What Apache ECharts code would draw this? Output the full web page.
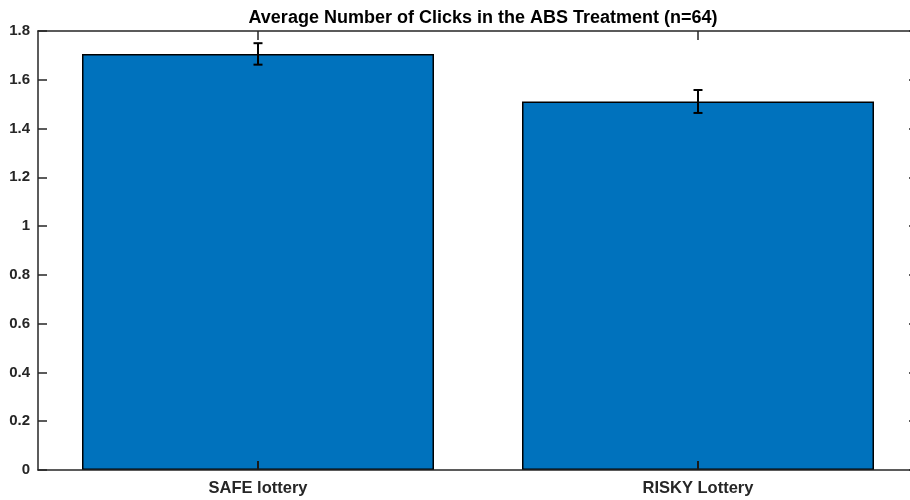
<!DOCTYPE html>
<html><head><meta charset="utf-8">
<script src="https://cdn.jsdelivr.net/npm/echarts@6/dist/echarts.min.js"></script>
<style>html,body{margin:0;padding:0;background:#fff}#c{width:910px;height:500px}</style>
</head><body><div id="c"></div>
<script>
var categories = ["SAFE lottery", "RISKY Lottery"];
var means = [1.706, 1.511];
var errors = [0.044, 0.047];
var titleText = "Average Number of Clicks in the ABS Treatment (n=64)";

var chart = echarts.init(document.getElementById('c'), null, {renderer: 'canvas'});
var axisCol = '#262626';
var font = 'Liberation Sans, Arial, Helvetica, sans-serif';
var errData = categories.map(function (c, i) { return [i, means[i] - errors[i], means[i] + errors[i]]; });

chart.setOption({
  animation: false,
  title: {
    text: titleText, left: 478, top: 4, textAlign: 'center',
    textStyle: {fontFamily: font, fontWeight: 'bold', fontSize: 18, color: '#000'}
  },
  grid: {left: 38, top: 31, width: 880, height: 439, containLabel: false, outerBoundsMode: 'none'},
  xAxis: [{
    type: 'category', data: categories, position: 'bottom', z: 10,
    axisLine: {show: true, lineStyle: {color: axisCol, width: 1.5}},
    axisTick: {show: true, inside: true, length: 9, interval: 0, alignWithLabel: true, lineStyle: {color: '#1a1a1a', width: 2}},
    axisLabel: {fontFamily: font, fontWeight: 'bold', fontSize: 16.5, color: '#262626', margin: 10, interval: 0}
  }, {
    type: 'category', data: categories, position: 'top', z: 10, show: true,
    axisLine: {show: true, onZero: false, lineStyle: {color: axisCol, width: 1.5}},
    axisTick: {show: true, inside: true, length: 9, interval: 0, alignWithLabel: true, lineStyle: {color: axisCol, width: 1.5}},
    axisLabel: {show: false, interval: 0}
  }],
  yAxis: [{
    type: 'value', min: 0, max: 1.8, interval: 0.2, position: 'left', z: 10,
    splitLine: {show: false},
    axisLine: {show: true, onZero: false, lineStyle: {color: axisCol, width: 1.5}},
    axisTick: {show: true, inside: true, length: 9, lineStyle: {color: axisCol, width: 1.5}},
    axisLabel: {fontFamily: font, fontWeight: 'bold', fontSize: 15, color: '#262626', margin: 8,
      formatter: function (v) { return String(Math.round(v * 10) / 10); }}
  }, {
    type: 'value', min: 0, max: 1.8, interval: 0.2, position: 'right', z: 10,
    splitLine: {show: false},
    axisLine: {show: true, onZero: false, lineStyle: {color: axisCol, width: 1.5}},
    axisTick: {show: true, inside: true, length: 9, lineStyle: {color: axisCol, width: 1.5}},
    axisLabel: {show: false}
  }],
  series: [{
    type: 'bar', data: means, barWidth: '80%', xAxisIndex: 0, yAxisIndex: 0,
    itemStyle: {color: '#0072BD', borderColor: '#000', borderWidth: 1.5}
  }, {
    type: 'custom', xAxisIndex: 0, yAxisIndex: 0, z: 10,
    data: errData,
    renderItem: function (params, api) {
      var x = api.value(0);
      var lo = api.coord([x, api.value(1)]);
      var hi = api.coord([x, api.value(2)]);
      var w = 4.5;
      var st = {stroke: '#000', lineWidth: 2};
      return {type: 'group', children: [
        {type: 'line', shape: {x1: lo[0], y1: lo[1], x2: hi[0], y2: hi[1]}, style: st},
        {type: 'line', shape: {x1: lo[0] - w, y1: lo[1], x2: lo[0] + w, y2: lo[1]}, style: st},
        {type: 'line', shape: {x1: hi[0] - w, y1: hi[1], x2: hi[0] + w, y2: hi[1]}, style: st}
      ]};
    }
  }]
});
</script></body></html>
